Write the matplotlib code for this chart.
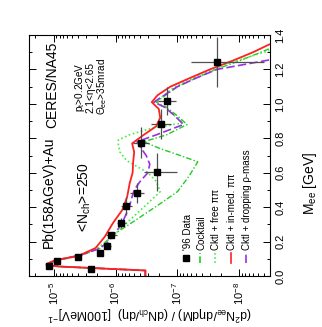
import numpy as np
import matplotlib
matplotlib.use("Agg")
import matplotlib.pyplot as plt
from matplotlib.ticker import MultipleLocator, NullFormatter, LogLocator

# -----------------------------
# Data: mass in GeV, yield per 100 MeV
# -----------------------------
data_m    = [0.040, 0.058, 0.087, 0.110, 0.134, 0.174, 0.238, 0.308, 0.407, 0.482, 0.604, 0.773, 0.883, 1.017, 1.243]
data_v    = [2.46e-6, 1.17e-5, 8.7e-6, 4.0e-6, 1.8e-6, 1.36e-6, 1.17e-6, 8.1e-7, 6.7e-7, 4.5e-7, 2.15e-7, 3.9e-7, 1.86e-7, 1.48e-7, 2.33e-8]
data_dm   = [0.005, 0.005, 0.008, 0.008, 0.010, 0.015, 0.020, 0.030, 0.050, 0.060, 0.110, 0.090, 0.090, 0.080, 0.145]
data_vlo  = [2.2e-6, 1.05e-5, 7.8e-6, 3.6e-6, 1.6e-6, 1.2e-6, 0.95e-6, 6.9e-7, 5.4e-7, 3.5e-7, 1.0e-7, 2.9e-7, 1.25e-7, 1.05e-7, 4.0e-9]
data_vhi  = [2.7e-6, 1.3e-5, 9.6e-6, 4.4e-6, 2.0e-6, 1.5e-6, 1.4e-6, 9.5e-7, 8.2e-7, 5.8e-7, 3.5e-7, 5.2e-7, 2.7e-7, 2.1e-7, 6.1e-8]

# Cocktail (dash-dot)
ckt_m = [0.0, 0.032, 0.045, 0.055, 0.063, 0.070, 0.090, 0.120, 0.160, 0.230, 0.300, 0.420, 0.490, 0.580, 0.663,
         0.700, 0.740, 0.780, 0.820, 0.880, 0.930, 0.980, 1.010, 1.040, 1.100, 1.150, 1.200, 1.250, 1.300, 1.320]
ckt_v = [3.3e-7, 3.3e-7, 2.0e-6, 8.0e-6, 1.3e-5, 1.25e-5, 8.5e-6, 3.6e-6, 1.8e-6, 1.2e-6, 6.0e-7, 1.9e-7, 1.0e-7, 6.5e-8, 4.7e-8,
         9.0e-8, 1.9e-7, 3.5e-7, 1.5e-7, 7.0e-8, 1.0e-7, 1.5e-7, 2.2e-7, 1.7e-7, 1.0e-7, 5.0e-8, 2.4e-8, 1.0e-8, 4.5e-9, 3.3e-9]

# Cocktail + free pi pi (dotted)
free_m = [0.0, 0.032, 0.045, 0.055, 0.063, 0.070, 0.090, 0.120, 0.160, 0.220, 0.300, 0.400, 0.490, 0.550, 0.600,
          0.670, 0.720, 0.760, 0.790, 0.820, 0.860, 0.890, 0.930, 0.980, 1.010, 1.040, 1.100, 1.150, 1.200, 1.250, 1.310]
free_v = [3.3e-7, 3.3e-7, 2.0e-6, 8.0e-6, 1.3e-5, 1.25e-5, 9.0e-6, 4.0e-6, 2.0e-6, 1.2e-6, 7.0e-7, 3.5e-7, 1.9e-7, 2.2e-7, 3.0e-7,
          6.6e-7, 8.5e-7, 9.0e-7, 9.0e-7, 6.0e-7, 2.5e-7, 8.0e-8, 1.1e-7, 1.6e-7, 2.3e-7, 1.8e-7, 1.1e-7, 5.5e-8, 2.6e-8, 1.1e-8, 3.3e-9]

# Cocktail + in-medium pi pi (solid)
inmed_m = [0.0, 0.032, 0.045, 0.055, 0.063, 0.070, 0.093, 0.116, 0.163, 0.227, 0.308, 0.383, 0.459, 0.540, 0.600,
           0.660, 0.720, 0.770, 0.820, 0.870, 0.920, 0.970, 1.010, 1.050, 1.100, 1.150, 1.200, 1.250, 1.300, 1.345]
inmed_v = [3.3e-7, 3.3e-7, 2.0e-6, 8.0e-6, 1.3e-5, 1.3e-5, 9.3e-6, 4.0e-6, 2.1e-6, 1.5e-6, 1.1e-6, 7.8e-7, 6.5e-7, 5.9e-7, 5.3e-7,
           5.2e-7, 5.0e-7, 5.4e-7, 3.5e-7, 2.2e-7, 1.9e-7, 2.0e-7, 2.6e-7, 2.1e-7, 1.3e-7, 6.3e-8, 3.0e-8, 1.3e-8, 6.0e-9, 3.3e-9]

# Cocktail + dropping rho mass (dashed)
drop_m = [0.0, 0.032, 0.045, 0.055, 0.063, 0.070, 0.093, 0.120, 0.160, 0.200, 0.300, 0.400, 0.450, 0.500, 0.550,
          0.600, 0.650, 0.700, 0.750, 0.780, 0.820, 0.880, 0.930, 0.980, 1.010, 1.040, 1.100, 1.150, 1.200, 1.255]
drop_v = [3.3e-7, 3.3e-7, 2.0e-6, 8.0e-6, 1.3e-5, 1.28e-5, 9.0e-6, 3.8e-6, 1.8e-6, 1.3e-6, 8.0e-7, 6.0e-7, 5.5e-7, 5.0e-7, 4.0e-7,
          3.0e-7, 2.8e-7, 3.2e-7, 4.0e-7, 4.5e-7, 2.2e-7, 8.0e-8, 1.1e-7, 1.6e-7, 2.4e-7, 1.8e-7, 1.0e-7, 5.0e-8, 2.3e-8, 3.3e-9]

legend_labels = ["'96 Data", "Cocktail", "Cktl + free ππ", "Cktl + in-med. ππ", "Cktl + dropping ρ-mass"]

# -----------------------------
# Style
# -----------------------------
plt.rcParams['font.family'] = ['Liberation Sans', 'DejaVu Sans']
plt.rcParams['mathtext.fontset'] = 'custom'
plt.rcParams['mathtext.rm'] = 'Liberation Sans'
plt.rcParams['mathtext.it'] = 'Liberation Sans:italic'

c_red = '#ff2020'
c_ckt = '#22cc22'
c_free = '#44ee44'
c_drop = '#9a30e0'

# figure is drawn turned by 90 degrees: yield runs right-to-left, mass bottom-to-top
fig = plt.figure(figsize=(3.22, 3.27), dpi=100)
ax = fig.add_axes([29/322, 51/327, 241/322, 241/327])

ax.plot(ckt_v, ckt_m, color=c_ckt, lw=1.0, ls=(0, (4, 1.5, 1, 1.5)))
ax.plot(free_v, free_m, color=c_free, lw=1.2, ls=(0, (1, 1.5)))
ax.plot(drop_v, drop_m, color=c_drop, lw=1.2, ls=(0, (5, 2)))
ax.plot(inmed_v, inmed_m, color=c_red, lw=1.3)

v = np.array(data_v)
xerr = [v - np.array(data_vlo), np.array(data_vhi) - v]
ax.errorbar(data_v, data_m, xerr=xerr, yerr=data_dm, fmt='s', ms=4, color='black',
            ecolor='#505050', elinewidth=0.9, capsize=0, zorder=5)

ax.set_xscale('log')
ax.set_xlim(2.5e-5, 3.2e-9)
ax.set_ylim(0.0, 1.4)
ax.yaxis.set_major_locator(MultipleLocator(0.2))
ax.yaxis.set_minor_locator(MultipleLocator(0.1))
ax.xaxis.set_major_locator(LogLocator(base=10, numticks=10))
ax.xaxis.set_minor_locator(LogLocator(base=10, subs=np.arange(2, 10), numticks=20))
ax.xaxis.set_minor_formatter(NullFormatter())
ax.yaxis.set_major_formatter(matplotlib.ticker.FormatStrFormatter('%.1f'))

ax.tick_params(which='both', direction='in', top=True, bottom=True, left=True, right=True,
               labelleft=False, labelright=True, labelsize=8, width=0.7)
ax.tick_params(which='major', length=5)
ax.tick_params(which='minor', length=2.5)
ax.tick_params(axis='x', labelrotation=90, pad=4)
ax.tick_params(axis='y', labelrotation=90, pad=4)
for lab in ax.get_yticklabels():
    lab.set_va('center')

ax.set_xlabel(r'$\mathregular{(d^2N_{ee}/d\eta dM)\ /\ (dN_{ch}/d\eta)\ \ [100MeV]^{-1}}$',
              rotation=180, fontsize=8.8)
ax.xaxis.set_label_coords(0.5, -0.115)
ax.yaxis.set_label_position('right')
ax.set_ylabel(r'$\mathregular{M_{ee}}$ [GeV]', rotation=90, fontsize=10)
ax.yaxis.set_label_coords(1.13, 0.385)

# -----------------------------
# Annotations
# -----------------------------
ax.text(0.095, 0.614, 'CERES/NA45', transform=ax.transAxes, rotation=90,
        ha='center', va='bottom', fontsize=10)
ax.text(0.212, 0.680, r'$\mathregular{p_t}$>0.2GeV', transform=ax.transAxes, rotation=90,
        ha='center', va='bottom', fontsize=7.2)
ax.text(0.257, 0.676, '2.1<η<2.65', transform=ax.transAxes, rotation=90,
        ha='center', va='bottom', fontsize=7.2)
ax.text(0.303, 0.668, r'$\mathregular{\Theta_{ee}}$>35mrad', transform=ax.transAxes, rotation=90,
        ha='center', va='bottom', fontsize=7.2)
ax.text(0.083, 0.116, 'Pb(158AGeV)+Au', transform=ax.transAxes, rotation=90,
        ha='center', va='bottom', fontsize=10)
ax.text(0.232, 0.183, r'<$\mathregular{N_{ch}}$>=250', transform=ax.transAxes, rotation=90,
        ha='center', va='bottom', fontsize=10)

# legend, drawn by hand (vertical entries)
leg_x = [0.660, 0.714, 0.776, 0.842, 0.905]
ax.plot([0.651], [0.075], 's', ms=4, color='black', transform=ax.transAxes, clip_on=False)
styles = [(c_ckt, (0, (4, 1.5, 1, 1.5))), (c_free, (0, (1, 1.5))), (c_red, '-'), (c_drop, (0, (5, 2)))]
for xx, (col, ls) in zip(leg_x[1:], styles):
    ax.plot([xx - 0.005, xx - 0.005], [0.054, 0.095], color=col, ls=ls, lw=1.2, transform=ax.transAxes)
for xx, lab in zip(leg_x, legend_labels):
    ax.text(xx, 0.108, lab, transform=ax.transAxes, rotation=90, ha='center', va='bottom', fontsize=7)

fig.savefig('out.png', dpi=100)
